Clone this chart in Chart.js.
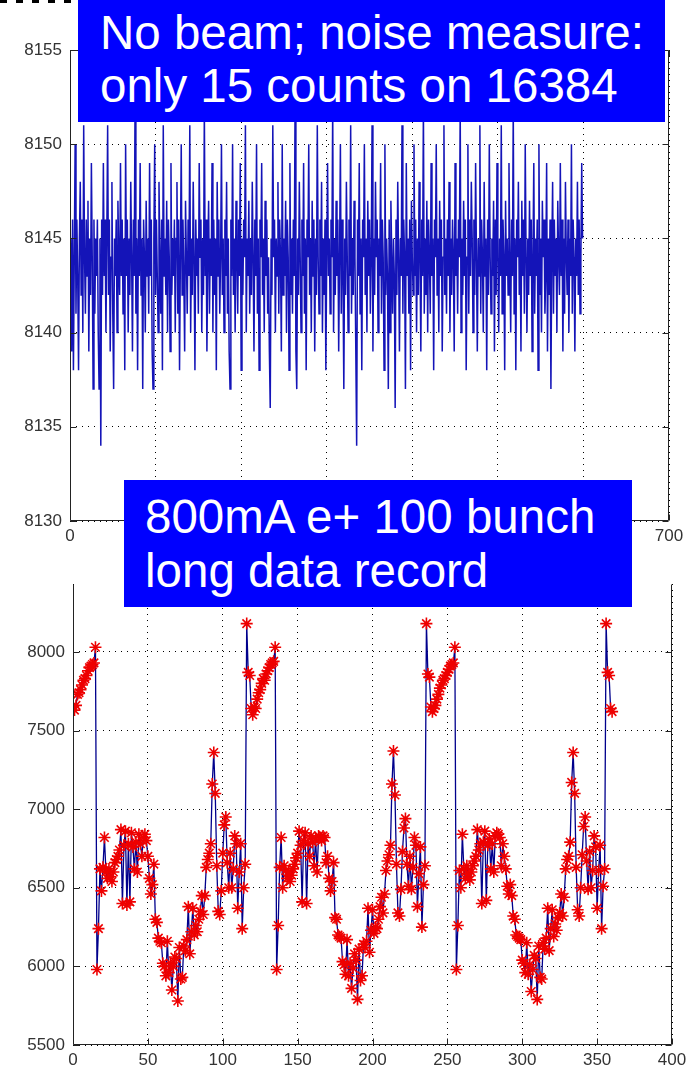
<!DOCTYPE html>
<html><head><meta charset="utf-8">
<script src="https://cdn.jsdelivr.net/npm/chart.js@4.4.0/dist/chart.umd.min.js"></script>
<style>
html,body{margin:0;padding:0;background:#fff;}
#wrap{position:relative;width:693px;height:1068px;overflow:hidden;background:#fff;}
canvas{position:absolute;left:0;top:0;}
.box{position:absolute;background:#0000ff;color:#fff;font-family:"Liberation Sans",Arial,sans-serif;font-size:47.5px;white-space:nowrap;box-sizing:border-box;}
#box1{left:78px;top:0;width:587px;height:122px;padding:6px 0 0 22px;line-height:53px;}
#box2{left:124px;top:480px;width:508px;height:127px;padding:9.5px 0 0 21px;line-height:54px;}
#dash{position:absolute;left:0;top:0;width:78px;height:3px;background:repeating-linear-gradient(90deg,#000 0 7px,transparent 7px 16px);}
</style></head>
<body><div id="wrap">
<canvas id="c1" width="693" height="1068"></canvas>
<canvas id="c2" width="693" height="1068"></canvas>
<div id="dash"></div>
<div class="box" id="box1">No beam; noise measure:<br>only 15 counts on 16384</div>
<div class="box" id="box2">800mA e+ 100 bunch<br>long data record</div>
</div>
<script>
// ---- Top chart: no-beam noise (ADC counts per sample) ----
const noiseCounts = [
8145,8139,8146,8138,8144,8150,8141,8146,8143,8138,8145,8148,8142,8146,8140,8151,8144,8141,8146,8143,8147,8139,8145,8142,8149,8144,8137,8146,8141,8145,
8143,8146,8140,8137,8145,8134,8146,8142,8149,8143,8146,8140,8145,8151,8142,8146,8139,8144,8148,8141,8137,8145,8143,8146,8140,8147,8144,8142,8149,8143,
8146,8141,8145,8138,8150,8143,8146,8140,8145,8142,8148,8144,8139,8146,8143,8152,8141,8145,8138,8146,8143,8149,8142,8145,8137,8146,8144,8140,8147,8143,
8145,8141,8149,8143,8146,8139,8137,8145,8150,8142,8146,8143,8140,8148,8144,8141,8146,8138,8151,8143,8145,8142,8147,8140,8146,8144,8139,8149,8142,8145,
8143,8146,8140,8145,8148,8141,8146,8138,8144,8150,8142,8146,8143,8139,8147,8144,8141,8146,8143,8151,8140,8145,8142,8148,8144,8138,8146,8143,8145,8141,
8149,8144,8146,8140,8145,8142,8152,8143,8146,8139,8144,8147,8141,8145,8143,8149,8140,8146,8142,8145,8138,8148,8143,8146,8141,8144,8150,8142,8145,8140,
8146,8143,8148,8141,8145,8139,8137,8146,8143,8150,8142,8145,8140,8147,8144,8141,8146,8143,8149,8138,8145,8142,8146,8144,8151,8140,8145,8143,8147,8141,
8145,8142,8148,8144,8139,8146,8143,8150,8141,8145,8138,8146,8144,8149,8142,8145,8140,8147,8143,8146,8141,8144,8139,8136,8145,8142,8151,8144,8146,8140,
8145,8143,8148,8141,8146,8144,8139,8150,8142,8145,8143,8147,8140,8146,8144,8138,8149,8142,8145,8141,8146,8143,8152,8139,8137,8145,8142,8148,8144,8140,
8146,8143,8149,8141,8145,8138,8146,8144,8150,8142,8145,8140,8147,8143,8146,8139,8145,8142,8151,8144,8141,8146,8143,8148,8140,8145,8142,8146,8138,8144,
8149,8143,8145,8141,8146,8144,8152,8140,8145,8142,8147,8143,8146,8139,8144,8150,8141,8146,8143,8137,8145,8142,8148,8144,8140,8146,8143,8151,8141,8145,
8142,8147,8144,8139,8134,8146,8143,8149,8141,8145,8138,8146,8144,8150,8142,8145,8140,8147,8143,8146,8141,8144,8151,8139,8145,8142,8148,8144,8146,8140,
8145,8143,8149,8141,8146,8144,8138,8150,8142,8145,8143,8137,8146,8140,8147,8144,8141,8145,8143,8136,8146,8142,8148,8144,8139,8145,8143,8151,8141,8146,
8144,8137,8149,8143,8145,8141,8146,8138,8147,8144,8142,8150,8143,8146,8140,8145,8142,8148,8144,8139,8146,8143,8152,8141,8145,8142,8147,8140,8146,8144,
8141,8149,8143,8145,8138,8146,8144,8150,8142,8145,8140,8147,8143,8146,8139,8144,8151,8142,8145,8141,8146,8143,8148,8140,8145,8142,8146,8144,8139,8149,
8143,8145,8141,8146,8144,8152,8140,8145,8142,8147,8143,8146,8138,8144,8150,8141,8146,8143,8148,8145,8140,8146,8142,8149,8144,8139,8145,8143,8151,8141,
8146,8144,8140,8148,8143,8145,8138,8146,8142,8150,8144,8141,8145,8143,8147,8139,8146,8142,8149,8144,8140,8145,8143,8151,8141,8146,8144,8138,8147,8143,
8145,8142,8149,8144,8140,8146,8143,8152,8141,8145,8138,8146,8144,8148,8142,8145,8139,8147,8143,8146,8141,8150,8144,8140,8145,8142,8147,8143,8146,8139,
8144,8149,8141,8145,8143,8146,8138,8150,8142,8145,8140,8147,8144,8146,8141,8143,8149,8139,8145,8142,8146,8137,8144,8148,8141,8146,8143,8145,8140,8147,
8144,8142,8149,8143,8146,8139,8145,8141,8148,8144,8142,8146,8140,8145,8143,8150,8141,8146,8144,8139,8145,8143,8148,8142,8146,8141,8144,8149,8145
];
const topXTicks = [0,100,200,300,400,500,600,700];
const topYTicks = [8130,8135,8140,8145,8150,8155];

// ---- Bottom chart: 800mA e+ 100 bunch, long data record ----
const bunchSignal = [
7630,7660,7730,7740,7760,7790,7820,7830,7850,7880,7900,7910,7920,7930,8030,
5980,6240,6620,6480,6630,6820,6600,6560,6620,6570,
6540,6600,6660,6680,6700,6740,6870,6400,6770,6860,
6390,6780,6410,6850,6760,6620,6790,6600,6840,6780,
6700,6820,6840,6800,6700,6560,6460,6520,6650,6300,
6280,6180,6160,6150,6020,6000,5940,6160,5960,6020,
5850,6000,6060,6050,5780,6120,5920,5930,6130,6100,
6170,6380,6080,6220,6370,6200,6260,6220,6300,6350,
6450,6330,6450,6630,6680,6720,6780,7160,7360,7100,
6640,6350,6330,6480,6720,6900,6950,6660,6500,6720,
6500,6620,6830,6780,6370,6600,6780,6240,6500,6650,
8180,7870,7850,7640,7600,7650,7640,7700,7740,7760,
7800,7830,7820,7860,7880,7900,7920,7930,7940,8030,
5980,6260,6630,6820,6500,6640,6610,6560,6600,6540,
6580,6620,6650,6690,6720,6860,6770,6410,6800,6850,
6400,6780,6700,6830,6790,6640,6810,6600,6830,6820,
6800,6830,6820,6660,6700,6560,6480,6540,6660,6310,
6300,6200,6190,6180,6030,6010,5950,6170,5940,6020,
5860,5990,6080,6040,5790,6110,5910,5940,6140,6120,
6160,6370,6090,6230,6360,6210,6250,6240,6300,6380,
6440,6340,6460,6610,6670,6710,6770,7160,7370,7090,
6650,6340,6320,6490,6730,6880,6940,6650,6510,6700,
6490,6630,6820,6770,6380,6590,6760,6250,6520,6640,
8180,7860,7840,7650,7620,7640,7660,7700,7730,7770,
7790,7820,7830,7850,7870,7890,7910,7920,7930,8030,
5980,6260,6610,6500,6840,6620,6560,6640,6590,6550,
6600,6640,6670,6700,6870,6740,6780,6400,6790,6860,
6420,6770,6810,6620,6780,6600,6830,6850,6840,6820,
6640,6780,6700,6620,6510,6460,6520,6450,6320,6300,
6200,6190,6180,6170,6040,6020,5960,6150,5950,6010,
5840,5980,6070,6050,5790,6130,5930,5920,6150,6110,
6180,6370,6100,6240,6360,6190,6270,6230,6310,6340,
6460,6320,6440,6620,6680,6700,6790,7170,7360,7100,
6630,6360,6320,6500,6710,6890,6950,6670,6490,6730,
6500,6610,6830,6760,6370,6610,6770,6240,6510,6620,
8180,7870,7850,7640,7620
];
const bottomXTicks = [0,50,100,150,200,250,300,350,400];
const bottomYTicks = [5500,6000,6500,7000,7500,8000];

const LABEL_FONT = {family:'"Liberation Sans", Arial, sans-serif', size:17};
const LABEL_COLOR = '#333';

const framePlugin = {
  id:'frame',
  afterDatasetsDraw(chart, args, opts){
    const {ctx, chartArea:a, scales} = chart;
    ctx.save();
    ctx.setLineDash([]);
    ctx.strokeStyle = '#222';
    ctx.lineWidth = 1;
    const L = Math.round(a.left)+0.5, R = Math.round(a.right)-0.5, T = Math.round(a.top)+0.5, B = Math.round(a.bottom)-0.5;
    const tl = 6;
    ctx.beginPath();
    if (opts.top) { ctx.moveTo(L,T); ctx.lineTo(R,T); }
    ctx.moveTo(L,T); ctx.lineTo(L,B); ctx.lineTo(R,B); ctx.lineTo(R,T);
    scales.y.ticks.forEach(t => {
      const p = Math.round(scales.y.getPixelForValue(t.value))+0.5;
      ctx.moveTo(L,p); ctx.lineTo(L+tl,p);
      ctx.moveTo(R,p); ctx.lineTo(R-tl,p);
    });
    scales.x.ticks.forEach(t => {
      const p = Math.round(scales.x.getPixelForValue(t.value))+0.5;
      ctx.moveTo(p,B); ctx.lineTo(p,B-tl);
      if (opts.top) { ctx.moveTo(p,T); ctx.lineTo(p,T+tl); }
    });
    ctx.stroke();
    ctx.restore();
  }
};

function axis(min, max, ticksArr, fit, pad) {
  return {
    type:'linear', min:min, max:max,
    afterBuildTicks: s => { s.ticks = ticksArr.map(v => ({value:v})); },
    afterFit: fit,
    grid:{color:'#000', lineWidth:1, drawTicks:false},
    border:{display:false, dash:[1,5]},
    ticks:{padding:pad, color:LABEL_COLOR, font:LABEL_FONT, autoSkip:false, maxRotation:0,
           callback: v => String(v)}
  };
}

// Top chart
new Chart(document.getElementById('c1'), {
  type:'line',
  data:{datasets:[{
    data: noiseCounts.map((v,i) => ({x:i+1, y:v})),
    borderColor:'#1414b8', borderWidth:1.5, pointRadius:0, tension:0, fill:false
  }]},
  options:{
    responsive:false, animation:false, events:[],
    layout:{padding:{left:0, right:24, top:50, bottom:508}},
    plugins:{legend:{display:false}, tooltip:{enabled:false}, frame:{top:true}},
    scales:{
      x:axis(0, 700, topXTicks, s => { s.height = 39; }, 5),
      y:axis(8130, 8155, topYTicks, s => { s.width = 70; }, 8)
    }
  },
  plugins:[framePlugin]
});

// Bottom chart
new Chart(document.getElementById('c2'), {
  type:'line',
  data:{datasets:[{
    data: bunchSignal.map((v,i) => ({x:i+1, y:v})),
    borderColor:'#00008c', borderWidth:1.3, tension:0, fill:false,
    pointStyle:'star', pointRadius:6, pointBorderColor:'#ee0000', pointBackgroundColor:'#ee0000', pointBorderWidth:1.6
  }]},
  options:{
    responsive:false, animation:false, events:[],
    layout:{padding:{left:0, right:21, top:584, bottom:0}},
    plugins:{legend:{display:false}, tooltip:{enabled:false}, frame:{top:false}},
    scales:{
      x:axis(0, 400, bottomXTicks, s => { s.height = 23; }, 5),
      y:axis(5500, 8432, bottomYTicks, s => { s.width = 73; }, 8)
    }
  },
  plugins:[framePlugin]
});
</script>
</body></html>
